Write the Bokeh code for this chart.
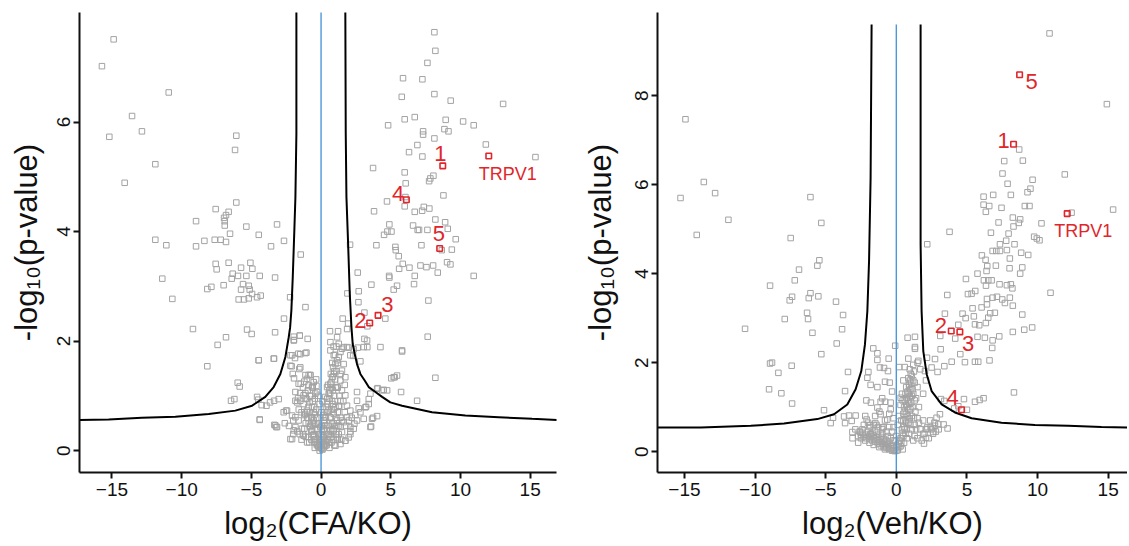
from bokeh.plotting import figure
from bokeh.models import Range1d, FixedTicker
from bokeh.layouts import row
from bokeh.embed import file_html
from bokeh.resources import INLINE
from bokeh.core.properties import value

# ---------------- data: CFA vs KO (left panel) ----------------
cfa_left_pts = [(-14.88,7.51),(-15.72,7.02),(-10.93,6.54),(-13.56,6.11),(-12.85,5.83),(-15.19,5.73),(-6.08,5.75),(-6.17,5.49),(-11.89,5.23),(-14.09,4.89),(-6.08,4.53),(-7.56,4.41),(-6.63,4.36),(-6.82,4.30),(-6.96,4.25),(-6.91,4.19),(-8.97,4.19),(-6.91,4.11),(-5.36,4.09),(-3.16,4.13),(-6.53,3.96),(-4.47,3.94),(-11.89,3.85),(-11.10,3.75),(-8.97,3.73),(-8.37,3.83),(-7.63,3.85),(-7.20,3.85),(-6.82,3.81),(-3.59,3.73),(-2.66,3.83),(-1.46,3.58),(-7.56,3.41),(-7.49,3.31),(-6.63,3.43),(-5.07,3.43),(-5.74,3.34),(-4.93,3.32),(-11.39,3.14),(-6.34,3.23),(-5.96,3.19),(-5.36,3.19),(-4.40,3.19),(-3.30,3.16),(-6.41,3.14),(-5.60,3.04),(-5.19,3.01),(-6.99,3.02),(-7.87,2.99),(-8.16,2.95),(-5.74,2.94),(-5.12,2.94),(-4.95,2.86),(-4.33,2.83),(-4.59,2.80),(-5.91,2.76),(-5.53,2.76),(-5.19,2.78),(-10.67,2.77),(-2.22,2.80),(-1.12,2.62),(-2.66,2.41),(-9.19,2.22),(-5.31,2.21),(-4.98,2.13),(-3.30,2.16),(-6.82,2.07),(-7.42,1.93),(-1.96,2.08),(-1.53,2.10),(-1.94,2.02),(-1.05,1.79),(-4.47,1.65),(-3.37,1.68),(-2.20,1.74),(-1.87,1.69),(-1.63,1.77),(-8.16,1.54),(-2.11,1.54),(-1.56,1.49),(-2.03,1.40),(-1.94,1.32),(-1.12,1.38),(-0.77,1.38),(-5.98,1.24),(-5.84,1.17),(-1.46,1.22),(-1.20,1.26),(-0.60,1.18),(-0.33,1.18),(-6.22,0.94),(-6.46,0.91),(-4.59,0.98),(-4.50,0.93),(-4.26,0.83),(-3.92,0.82),(-3.66,0.88),(-3.37,0.91),(-3.04,0.94),(-4.40,0.57),(-3.35,0.47),(-3.21,0.43),(-2.51,0.73),(-1.84,0.91),(-1.65,0.96),(-2.08,0.21)]

cfa_right_pts = [(8.13,7.64),(8.20,7.30),(7.63,7.08),(5.88,6.80),(7.27,6.78),(8.13,6.51),(5.79,6.46),(9.30,6.39),(13.06,6.33),(6.00,6.05),(6.72,6.09),(8.94,6.04),(10.19,6.01),(10.95,5.94),(4.81,5.94),(7.32,5.83),(7.32,5.77),(8.85,5.87),(9.14,5.83),(8.13,5.70),(6.91,5.58),(11.82,5.59),(6.31,5.45),(7.27,5.37),(15.38,5.36),(3.73,5.16),(6.00,5.08),(7.84,4.97),(8.06,5.02),(7.75,4.92),(6.07,4.88),(8.78,4.66),(4.73,4.55),(6.05,4.63),(6.00,4.46),(6.72,4.36),(7.37,4.45),(7.77,4.42),(7.25,4.38),(3.80,4.37),(4.90,4.13),(8.20,4.22),(8.90,4.17),(9.09,4.05),(6.60,4.11),(6.93,4.03),(7.03,4.03),(7.63,4.03),(5.05,4.00),(4.76,4.00),(4.52,3.94),(9.66,3.86),(3.97,3.75),(5.33,3.72),(5.36,3.66),(7.20,3.75),(8.66,3.66),(9.38,3.67),(2.08,3.76),(5.57,3.55),(5.86,3.41),(6.34,3.34),(7.13,3.38),(7.56,3.35),(8.04,3.38),(9.04,3.44),(9.28,3.40),(8.37,3.25),(10.95,3.19),(5.60,3.32),(4.88,3.19),(4.90,3.16),(6.72,3.19),(6.67,3.04),(5.45,3.01),(5.21,2.94),(2.63,3.25),(3.61,3.03),(2.70,2.91),(1.89,2.87),(2.68,2.71),(7.70,2.74),(4.61,2.41),(3.11,2.52),(1.55,2.41),(1.94,2.32),(1.87,2.22),(0.64,2.18),(1.22,2.18),(3.32,2.27),(3.32,1.89),(7.65,2.08),(5.81,1.81),(3.11,2.04),(2.63,1.88),(1.98,1.88),(2.34,1.85),(2.30,1.73),(2.82,1.63),(5.28,1.34),(5.04,1.32),(8.20,1.33),(4.06,1.14),(4.50,1.11),(5.74,1.07),(6.89,0.91),(3.42,0.94),(3.23,0.80),(2.70,0.77),(4.02,0.63),(3.73,0.60),(3.59,0.44),(2.46,0.65),(2.39,0.49),(2.10,0.35),(1.74,0.18)]

cfa_core_pts = [(-4.48,1.65),(-3.40,1.68),(-4.40,0.56),(-3.28,0.46),(-3.16,0.43),(-2.20,0.21),(-2.44,0.73),(-2.68,0.70),(-2.08,0.64),(-1.72,0.88),(-1.49,0.91),(-1.25,0.85),(-1.84,1.07),(-1.61,1.22),(-0.89,1.38),(-0.77,1.38),(-1.49,1.52),(-2.20,1.55),(-1.49,1.76),(-1.13,1.78),(-2.08,1.74),(-1.96,2.01),(-1.53,2.10),(-0.96,2.04),(-1.84,0.43),(-1.96,0.37),(-1.53,0.30),(-1.25,0.27),(-1.37,0.40),(-1.61,0.55),(-1.84,0.61),(-1.13,0.67),(-1.01,0.73),(-1.25,1.01),(-1.13,1.05),(-1.01,0.94),(-0.82,0.88),(-0.65,0.79),(-0.53,0.70),(-0.41,1.04),(-0.29,1.07),(-0.89,1.19),(-0.65,1.16),(-1.01,1.31),(-0.53,1.25),(0.43,1.16),(0.67,1.22),(0.79,1.34),(0.91,1.40),(0.86,1.52),(1.03,1.58),(1.15,1.65),(1.27,1.71),(0.91,1.74),(0.67,1.83),(1.39,1.80),(1.50,1.86),(1.62,1.89),(1.27,1.95),(0.67,1.98),(1.15,2.07),(1.86,1.89),(2.10,1.74),(1.62,1.58),(1.50,1.46),(1.74,1.34),(1.39,1.28),(1.15,1.16),(1.50,1.10),(1.74,1.01),(1.39,0.91),(1.27,0.82),(1.86,0.82),(2.10,0.73),(1.86,0.61),(1.62,0.52),(2.10,0.43),(2.34,0.40),(2.58,0.55),(2.82,0.70),(3.06,0.58),(3.18,0.79),(3.42,0.85),(3.54,1.04),(4.02,1.13),(4.38,1.10),(4.74,1.10),(5.21,1.34),(5.45,1.37),(5.81,1.83),(4.26,1.89),(3.30,2.01),(3.06,1.89),(2.58,1.07),(2.58,0.91),(3.66,0.58),(3.54,0.43),(2.10,0.30),(1.98,0.24),(1.74,0.18),(1.39,0.12),(1.03,0.09),(1.15,0.24),(0.91,0.37),(0.79,0.49),(0.67,0.61),(0.55,0.73),(0.43,0.85),(0.31,0.98),(0.55,1.04),(0.79,0.91),(1.03,0.79),(0.91,0.67),(1.15,0.55),(1.39,0.43),(1.50,0.34),(1.27,0.30),(0.67,0.24),(0.43,0.18),(0.31,0.09),(0.07,0.03),(-0.17,0.06),(-0.29,0.12),(-0.41,0.21),(-0.53,0.30),(-0.65,0.37),(-0.77,0.43),(-0.89,0.49),(-0.05,0.18),(0.19,0.24),(-0.17,0.30),(0.07,0.37),(-0.05,0.43),(-0.29,0.37),(-0.41,0.49),(-0.53,0.55),(-0.65,0.61),(0.31,0.46),(0.43,0.37),(0.55,0.30),(0.67,0.37),(0.19,0.55),(0.31,0.61),(0.00,0.05),(0.05,0.10),(-0.10,0.12),(0.10,0.20),(-0.15,0.22),(0.15,0.28),(-0.20,0.30),(0.20,0.40),(-0.25,0.40),(0.25,0.50),(-0.30,0.50),(0.35,0.60),(-0.35,0.60),(0.45,0.70),(-0.45,0.66),(0.50,0.80),(0.60,0.95),(0.65,1.05),(0.70,1.15),(0.75,1.25),(0.85,1.35),(0.95,1.45),(1.00,1.30),(1.05,1.15),(0.95,1.00),(0.85,0.85),(0.75,0.75),(0.65,0.60),(0.55,0.45),(0.45,0.30),(0.35,0.15),(-0.50,0.80),(-0.60,0.90),(-0.70,1.00),(-0.60,0.50),(-0.70,0.60),(-0.80,0.70),(-0.90,0.80),(-1.00,0.60),(-1.10,0.50),(-1.20,0.40),(-1.30,0.30),(-0.90,0.25),(-0.70,0.20),(-0.50,0.15),(-1.00,0.15),(1.20,0.70),(1.30,1.00),(1.40,1.40),(1.10,1.90),(1.45,0.20),(1.60,0.90),(1.10,0.45),(0.90,0.20),(1.70,1.20)]

cfa_dense_pts = [(-0.10,0.00),(0.10,0.02),(-0.20,0.08),(0.20,0.06),(-0.30,0.10),(0.30,0.12),(-0.40,0.16),(0.40,0.10),(-0.50,0.25),(0.50,0.20),(-0.60,0.28),(0.60,0.15),(-0.70,0.35),(0.70,0.30),(-0.80,0.45),(0.80,0.35),(-0.90,0.60),(0.90,0.50),(-1.00,0.70),(1.00,0.45),(-0.35,0.75),(0.35,0.80),(-0.45,0.95),(0.45,0.95),(-0.25,0.60),(0.25,0.70),(-0.15,0.50),(0.15,0.65),(-0.05,0.30),(0.05,0.45),(0.60,1.10),(0.50,1.20),(0.70,1.40),(0.80,1.60),(1.00,1.75),(0.90,1.90),(1.10,1.45),(1.20,1.60),(1.20,1.15),(1.30,0.80),(1.40,0.60),(1.50,0.55),(1.70,0.70),(1.80,0.45),(2.00,0.55),(2.20,0.60),(-1.20,0.65),(-1.40,0.70),(-1.60,0.75),(-1.10,0.95),(-0.95,1.10),(-0.80,1.00),(-0.60,1.15),(-1.30,1.15),(-1.50,1.05),(-2.00,0.55),(-2.30,0.45),(-2.60,0.50),(-0.35,1.30),(-0.20,1.00),(0.00,0.70),(0.10,0.90),(-0.10,0.85),(0.85,1.10),(1.00,0.90),(0.90,0.75),(1.10,0.60),(1.25,0.45),(1.05,0.30),(0.60,0.05),(0.75,0.15),(0.95,0.10),(1.20,0.20),(-0.85,0.15),(-1.10,0.25),(-1.40,0.20),(-1.70,0.35),(-2.00,0.30),(-0.45,0.05),(0.00,0.15),(0.00,0.25)]

cfa_hl_x = [8.73, 3.49, 4.09, 6.12, 8.51, 12.03]
cfa_hl_y = [5.20, 2.33, 2.47, 4.58, 3.69, 5.38]
cfa_hl_label = ["1", "2", "3", "4", "5", "TRPV1"]
cfa_lab_x = [8.56, 2.82, 4.76, 5.52, 8.45, 13.39]
cfa_lab_y = [5.42, 2.38, 2.67, 4.69, 3.96, 5.06]

cfa_curve_left = [(-1.77,8.05),(-1.77,5.79),(-1.84,4.63),(-1.91,4.08),(-2.03,3.17),(-2.13,2.56),(-2.22,2.25),(-2.32,2.07),(-2.56,1.71),(-2.92,1.40),(-3.40,1.16),(-4.00,0.98),(-4.95,0.82),(-6.15,0.73),(-8.06,0.67),(-10.45,0.62),(-12.85,0.60),(-15.24,0.57),(-17.40,0.56)]
cfa_curve_right = [(1.74,8.05),(1.77,5.80),(1.82,4.63),(1.94,3.78),(2.06,2.86),(2.18,2.25),(2.27,1.95),(2.41,1.77),(2.58,1.58),(2.82,1.40),(3.13,1.28),(3.42,1.16),(3.90,1.07),(4.38,0.98),(4.97,0.88),(5.81,0.82),(7.96,0.70),(10.35,0.64),(12.75,0.61),(15.14,0.58),(17.00,0.56)]

# ---------------- data: Veh vs KO (right panel) ----------------
veh_left_pts = [(-14.93,7.47),(-13.63,6.06),(-12.83,5.81),(-15.28,5.70),(-11.89,5.21),(-14.13,4.87),(-6.08,5.72),(-5.31,5.14),(-7.48,4.80),(-5.45,4.30),(-5.59,4.18),(-6.89,4.09),(-7.19,3.85),(-8.94,3.73),(-6.08,3.56),(-6.20,3.45),(-7.38,3.48),(-7.55,3.40),(-5.52,3.49),(-4.27,3.37),(-6.32,3.12),(-6.25,2.98),(-3.77,3.07),(-7.90,2.98),(-10.71,2.76),(-5.94,2.67),(-3.84,2.75),(-4.22,2.43),(-5.31,2.19),(-8.94,1.98),(-8.80,2.00),(-8.35,1.77),(-7.41,1.93),(-9.01,1.40),(-8.14,1.31),(-7.38,1.08),(-1.63,2.32),(-1.34,2.21),(-1.34,2.06),(-0.54,2.09),(-3.42,1.79),(-1.98,1.79),(-1.16,1.89),(-0.87,1.88),(-0.59,1.81),(-0.80,1.57),(-0.47,1.55),(-2.05,1.66),(-1.82,1.50),(-1.34,1.45),(-3.63,1.36),(-2.12,1.15),(-1.11,1.12),(-0.80,1.12),(-5.12,0.93),(-4.65,0.64),(-4.48,0.76),(-3.70,0.79),(-3.63,0.64),(-3.35,0.81),(-2.88,0.81),(-3.11,0.44),(-2.57,0.44),(-3.16,0.69),(-2.10,0.72),(-1.86,0.59),(-1.49,0.64),(-1.11,0.84),(-1.34,0.99),(-0.99,0.54),(-1.82,0.39),(-0.64,0.72),(-0.40,0.95),(0.31,1.21)]

veh_right_pts = [(10.85,9.40),(14.91,7.81),(8.70,6.79),(8.96,6.54),(7.64,6.53),(7.52,6.25),(11.93,6.23),(7.88,6.02),(9.65,6.11),(9.50,5.91),(9.29,5.83),(8.11,5.77),(6.18,5.73),(6.86,5.77),(6.18,5.55),(6.58,5.52),(6.34,5.39),(7.45,5.48),(9.10,5.52),(9.43,5.52),(12.41,5.37),(15.35,5.44),(8.25,5.26),(8.77,5.22),(8.67,5.14),(7.24,5.15),(8.30,5.06),(10.28,5.13),(3.77,4.94),(6.70,4.92),(7.95,4.90),(9.76,4.83),(9.95,4.79),(10.14,4.75),(2.19,4.66),(7.34,4.66),(7.78,4.74),(8.37,4.66),(6.82,4.51),(7.08,4.51),(7.34,4.51),(7.83,4.53),(8.84,4.47),(9.34,4.42),(6.06,4.41),(6.32,4.31),(8.04,4.34),(6.44,4.17),(7.05,4.18),(8.02,4.12),(8.92,4.14),(6.39,4.06),(5.75,4.00),(4.93,3.88),(6.20,3.85),(6.51,3.85),(6.75,3.85),(6.35,3.73),(7.31,3.76),(7.83,3.74),(8.11,3.76),(8.22,3.67),(8.77,4.00),(10.92,3.57),(3.61,3.52),(5.07,3.54),(5.33,3.55),(5.59,3.61),(6.42,3.43),(6.82,3.46),(7.13,3.48),(7.50,3.42),(7.69,3.34),(8.04,3.46),(8.25,3.28),(6.42,3.31),(6.04,3.24),(5.40,3.22),(6.65,3.11),(6.98,3.12),(8.92,3.08),(3.44,3.10),(4.69,3.10),(4.91,3.00),(5.49,3.04),(6.51,3.01),(6.34,2.89),(5.57,2.86),(5.87,2.84),(4.39,2.85),(9.62,2.79),(9.06,2.74),(8.25,2.69),(3.11,2.60),(4.17,2.54),(5.75,2.58),(6.27,2.56),(6.82,2.50),(7.29,2.59),(6.79,2.33),(4.53,2.19),(4.86,2.01),(5.57,2.02),(5.80,2.02),(6.60,2.05),(3.92,2.02),(3.40,1.92),(2.92,1.79),(3.14,2.30),(2.17,2.11),(8.33,1.33),(6.18,1.20),(5.90,1.16),(5.57,1.12),(4.79,1.18),(5.00,0.94),(4.10,0.97),(4.39,1.02),(3.63,0.52),(3.35,0.61),(2.97,0.61),(2.74,0.58),(2.43,0.54),(2.15,0.51),(1.96,0.18),(2.10,0.31),(2.62,0.44),(3.09,0.84),(2.85,0.76),(3.40,1.14),(3.16,1.18),(1.32,2.58),(0.80,2.56),(-0.08,2.38),(1.32,2.35),(0.85,2.09),(1.56,2.04),(1.32,2.31),(2.03,1.81),(2.50,1.89),(2.74,2.08)]

veh_core_pts = [(-2.60,0.45),(-2.40,0.42),(-2.20,0.38),(-2.00,0.35),(-1.80,0.33),(-1.60,0.30),(-1.40,0.26),(-1.20,0.22),(-1.00,0.18),(-0.80,0.14),(-0.60,0.10),(-0.40,0.07),(-0.20,0.04),(0.00,0.02),(-2.50,0.30),(-2.20,0.25),(-1.90,0.20),(-1.70,0.42),(-1.50,0.45),(-1.30,0.38),(-1.10,0.33),(-0.90,0.29),(-0.70,0.25),(-0.50,0.20),(-0.30,0.15),(-1.60,0.15),(-1.20,0.10),(-0.80,0.05),(-2.90,0.50),(-3.10,0.30),(-2.70,0.20),(-1.00,0.40),(-0.60,0.35),(-0.40,0.30),(-1.90,0.55),(-2.30,0.60),(-1.40,0.60),(-0.90,0.55),(-0.30,0.45),(-0.20,0.25),(0.20,0.10),(0.35,0.20),(0.50,0.35),(0.60,0.50),(0.70,0.65),(0.80,0.80),(0.85,0.95),(0.90,1.10),(0.95,1.25),(1.00,1.40),(1.05,1.55),(1.10,1.70),(0.60,0.90),(0.70,1.05),(0.75,1.20),(0.80,1.35),(0.90,1.50),(1.20,1.30),(1.15,1.00),(1.10,0.80),(1.00,0.60),(0.90,0.40),(0.75,0.30),(0.45,0.05),(0.30,0.30),(0.40,0.50),(0.50,0.70),(0.55,1.00),(0.65,1.30),(1.30,1.55),(1.25,1.80),(1.40,1.20),(1.50,1.45),(1.35,0.90),(1.60,1.00),(1.30,0.60),(1.50,0.75),(0.85,1.65),(0.95,1.85),(1.20,1.95),(1.50,2.00),(1.30,0.35),(1.70,0.50),(2.00,0.40),(2.30,0.30),(1.80,0.25),(2.50,0.50),(2.20,0.55),(2.80,0.45),(3.00,0.50),(1.90,0.70),(2.40,0.70),(2.70,0.65),(0.10,0.60),(0.20,0.80),(0.30,1.05),(0.40,1.30),(-0.20,0.75),(-0.50,0.85),(-0.80,0.70),(-1.20,0.90),(-0.40,1.10),(-1.80,1.10),(-1.50,0.80),(-2.20,0.80),(-1.00,1.20),(-0.30,1.35),(0.50,1.60),(0.60,1.90),(0.20,1.90),(1.90,1.30),(2.10,1.60),(1.70,1.85)]

veh_dense_pts = [(-2.70,0.35),(-2.50,0.38),(-2.30,0.33),(-2.10,0.30),(-1.90,0.28),(-1.70,0.25),(-1.50,0.22),(-1.30,0.18),(-1.10,0.14),(-0.90,0.10),(-0.70,0.08),(-0.50,0.05),(-0.30,0.02),(-0.10,0.01),(0.10,0.03),(-2.40,0.50),(-2.00,0.45),(-1.80,0.40),(-1.60,0.36),(-1.40,0.32),(-1.20,0.28),(-1.00,0.24),(-0.80,0.20),(-0.60,0.16),(-0.40,0.12),(-0.20,0.08),(0.00,0.10),(0.15,0.18),(0.30,0.12),(0.25,0.25),(0.40,0.30),(0.45,0.42),(0.55,0.55),(0.65,0.70),(0.72,0.85),(0.78,1.00),(0.82,1.15),(0.88,1.30),(0.92,1.45),(0.98,1.60),(1.02,1.75),(0.55,0.20),(0.65,0.40),(0.75,0.50),(0.85,0.65),(0.95,0.75),(1.00,0.95),(1.05,1.10),(1.10,1.25),(1.15,1.40),(1.20,1.60),(0.50,0.85),(0.60,1.15),(0.70,1.45),(0.35,0.70),(0.45,1.15),(1.30,1.15),(1.25,0.75),(1.40,0.50),(1.60,0.65),(1.10,0.50),(1.50,0.30),(1.20,0.25),(1.90,0.40),(2.10,0.50),(2.60,0.40),(-1.00,0.50),(-1.30,0.55),(-0.70,0.45),(-0.50,0.55),(-1.60,0.60),(-2.00,0.65),(-0.20,0.55),(0.00,0.35),(-0.10,0.25)]

veh_hl_x = [8.30, 3.89, 4.50, 4.62, 8.73, 12.10]
veh_hl_y = [6.91, 2.71, 2.69, 0.94, 8.47, 5.35]
veh_hl_label = ["1", "2", "3", "4", "5", "TRPV1"]
veh_lab_x = [7.59, 3.16, 5.09, 3.99, 9.58, 13.23]
veh_lab_y = [7.00, 2.83, 2.43, 1.21, 8.32, 4.96]

veh_curve_left = [(-1.75,9.60),(-1.82,6.16),(-1.93,4.29),(-2.05,3.16),(-2.22,2.41),(-2.48,1.81),(-2.88,1.40),(-3.47,1.06),(-4.41,0.84),(-5.59,0.73),(-7.95,0.63),(-10.31,0.58),(-13.84,0.54),(-17.00,0.54)]
veh_curve_right = [(1.72,9.60),(1.72,4.66),(1.79,3.16),(1.91,2.26),(2.15,1.74),(2.50,1.36),(3.21,1.06),(4.15,0.88),(5.33,0.75),(7.45,0.65),(9.81,0.60),(12.17,0.58),(14.53,0.55),(16.46,0.54)]

x_ticks = [-15, -10, -5, 0, 5, 10, 15]
cfa_y_ticks = [0, 2, 4, 6]
veh_y_ticks = [0, 2, 4, 6, 8]

GRAY = "#a3a3a3"
RED = "#e0262b"
BLUE = "#4f98d8"
FONT = "Liberation Sans"


def unzip(pts):
    return [p[0] for p in pts], [p[1] for p in pts]


def panel(groups, curve_l, curve_r, hx, hy, hlab, lx, ly, xr, yr, yticks, xlabel,
          width, mbl, mbr, ylab_standoff):
    p = figure(width=width, height=544, x_range=Range1d(*xr), y_range=Range1d(*yr),
               output_backend="svg", toolbar_location=None,
               min_border_left=mbl, min_border_right=mbr,
               min_border_top=12, min_border_bottom=72)
    p.outline_line_color = None
    p.grid.visible = False
    p.background_fill_color = "white"
    p.border_fill_color = "white"

    for g in groups:
        gx, gy = unzip(g)
        p.scatter(gx, gy, marker="square", size=5.5, fill_color=None,
                  line_color=GRAY, line_width=1)

    # vertical reference line at x = 0 up to the top of the threshold curve
    top = max(max(unzip(curve_l)[1]), max(unzip(curve_r)[1]))
    p.segment(x0=[0], y0=[yr[0]], x1=[0], y1=[top], line_color=BLUE, line_width=1.4)

    for c in (curve_l, curve_r):
        cx, cy = unzip(c)
        p.line(cx, cy, line_color="black", line_width=2)

    p.scatter(hx, hy, marker="square", size=5.5, fill_color=None,
              line_color=RED, line_width=1.6)
    num_idx = [i for i, t in enumerate(hlab) if t != "TRPV1"]
    trp_idx = [i for i, t in enumerate(hlab) if t == "TRPV1"]
    p.text([lx[i] for i in num_idx], [ly[i] for i in num_idx], text=[hlab[i] for i in num_idx],
           text_font=value(FONT), text_font_size="22px", text_color=RED,
           text_align="center", text_baseline="middle")
    p.text([lx[i] for i in trp_idx], [ly[i] for i in trp_idx], text=[hlab[i] for i in trp_idx],
           text_font=value(FONT), text_font_size="18px", text_color=RED,
           text_align="center", text_baseline="middle")

    p.xaxis.ticker = FixedTicker(ticks=x_ticks)
    p.yaxis.ticker = FixedTicker(ticks=yticks)
    p.xaxis.axis_label = xlabel
    p.yaxis.axis_label = "-log\u2081\u2080(p-value)"
    for ax in p.axis:
        ax.axis_line_width = 2
        ax.axis_line_color = "#111111"
        ax.major_tick_line_width = 2
        ax.major_tick_line_color = "#111111"
        ax.major_tick_in = 0
        ax.major_tick_out = 6
        ax.minor_tick_line_color = None
        ax.major_label_text_font = FONT
        ax.major_label_text_font_size = "19px"
        ax.major_label_text_color = "#111111"
        ax.axis_label_text_font = FONT
        ax.axis_label_text_font_size = "31px"
        ax.axis_label_text_font_style = "normal"
        ax.axis_label_text_color = "#111111"
    p.xaxis.major_label_standoff = 4
    p.xaxis.axis_label_standoff = 7
    p.yaxis.major_label_standoff = 3
    p.yaxis.axis_label_standoff = ylab_standoff
    p.yaxis.major_label_orientation = "vertical"
    return p


p1 = panel([cfa_left_pts, cfa_right_pts, cfa_core_pts, cfa_dense_pts], cfa_curve_left, cfa_curve_right,
           cfa_hl_x, cfa_hl_y, cfa_hl_label, cfa_lab_x, cfa_lab_y,
           (-17.33, 16.89), (-0.40, 8.00), cfa_y_ticks, "log\u2082(CFA/KO)",
           576, 79, 20, 11)
p2 = panel([veh_left_pts, veh_right_pts, veh_core_pts, veh_dense_pts], veh_curve_left, veh_curve_right,
           veh_hl_x, veh_hl_y, veh_hl_label, veh_lab_x, veh_lab_y,
           (-16.91, 16.37), (-0.47, 9.87), veh_y_ticks, "log\u2082(Veh/KO)",
           551, 81, 0, 15)

layout = row(p1, p2)
open("out.html", "w").write(file_html(layout, INLINE))
